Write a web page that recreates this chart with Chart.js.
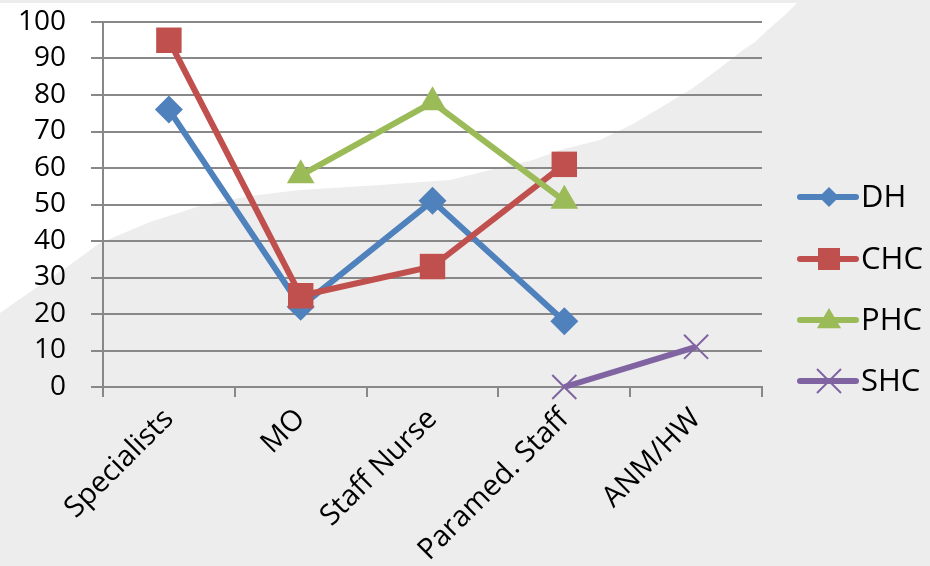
<!DOCTYPE html>
<html>
<head>
<meta charset="utf-8">
<script src="https://cdn.jsdelivr.net/npm/chart.js@4/dist/chart.umd.min.js"></script>
<style>
  html, body { margin: 0; padding: 0; background: #ededed; }
  #wrap { width: 930px; height: 566px; position: relative; }
</style>
</head>
<body>
<div id="wrap"><canvas id="c" width="930" height="566"></canvas></div>
<script>
// Staff categories along the x axis
const categories = ['Specialists', 'MO', 'Staff Nurse', 'Paramed. Staff', 'ANM/HW'];

// Values per facility level (null = no value for that category)
const dhValues  = [76, 22, 51, 18, null];
const chcValues = [95, 25, 33, 61, null];
const phcValues = [null, 58, 78, 51, null];
const shcValues = [null, null, null, 0, 11];

// Y axis ticks
const yMin = 0;
const yMax = 100;
const yStep = 10;

const seriesNames = ['DH', 'CHC', 'PHC', 'SHC'];
const seriesColors = ['#4f81bd', '#c0504d', '#9bbb59', '#8064a2'];
const seriesShapes = ['rectRot', 'rect', 'triangle', 'crossRot'];
const seriesRadius = [14, 18, 16, 17];
const seriesValues = [dhValues, chcValues, phcValues, shcValues];

const FONT = '"Open Sans", "DejaVu Sans", sans-serif';
const GRID = '#888888';

// Slide backdrop: grey with a white sweep in the upper left
const backdrop = {
  id: 'backdrop',
  beforeDraw(chart) {
    const ctx = chart.ctx;
    ctx.save();
    ctx.fillStyle = '#ededed';
    ctx.fillRect(0, 0, chart.width, chart.height);
    ctx.fillStyle = '#ffffff';
    const pts = [[0,3],[797,3],[785,15],[770,28],[755,42],[743,50],[720,68],[693,88],[660,108],[633,124],
      [600,140],[560,150],[533,160],[490,170],[450,180],[380,185],[300,190],[250,196],[200,206],
      [150,222],[100,243],[67,267],[30,292],[0,313]];
    ctx.beginPath();
    pts.forEach((p, i) => i ? ctx.lineTo(p[0], p[1]) : ctx.moveTo(p[0], p[1]));
    ctx.closePath();
    ctx.fill();
    ctx.restore();
  }
};

function drawMarker(ctx, shape, x, y, r, color) {
  ctx.save();
  ctx.fillStyle = color;
  ctx.strokeStyle = color;
  ctx.beginPath();
  if (shape === 'rectRot') {
    ctx.moveTo(x, y - r); ctx.lineTo(x + r, y); ctx.lineTo(x, y + r); ctx.lineTo(x - r, y);
    ctx.closePath(); ctx.fill();
  } else if (shape === 'rect') {
    ctx.rect(x - r, y - r, 2 * r, 2 * r); ctx.fill();
  } else if (shape === 'triangle') {
    ctx.moveTo(x, y - r * 1.1); ctx.lineTo(x + r * 1.1, y + r * 0.75); ctx.lineTo(x - r * 1.1, y + r * 0.75);
    ctx.closePath(); ctx.fill();
  } else {
    ctx.lineWidth = 2;
    ctx.moveTo(x - r, y - r); ctx.lineTo(x + r, y + r);
    ctx.moveTo(x + r, y - r); ctx.lineTo(x - r, y + r);
    ctx.stroke();
  }
  ctx.restore();
}

// Legend: line sample with marker, then label
const sideLegend = {
  id: 'sideLegend',
  afterDraw(chart) {
    const ctx = chart.ctx;
    const x0 = chart.chartArea.right + 38;
    const rows = [197, 259, 320, 381];
    chart.data.datasets.forEach((ds, i) => {
      const y = rows[i];
      ctx.save();
      ctx.strokeStyle = ds.borderColor;
      ctx.lineWidth = 6;
      ctx.lineCap = 'round';
      ctx.beginPath();
      ctx.moveTo(x0, y); ctx.lineTo(x0 + 56, y);
      ctx.stroke();
      ctx.restore();
      const mr = [10, 11, 11, 12][i];
      drawMarker(ctx, seriesShapes[i], x0 + 29, y, mr, ds.borderColor);
      ctx.save();
      ctx.fillStyle = '#000';
      ctx.font = '31px ' + FONT;
      ctx.textBaseline = 'middle';
      ctx.textAlign = 'left';
      ctx.fillText(ds.label, x0 + 61, y + 1);
      ctx.restore();
    });
  }
};

const datasets = seriesNames.map((name, i) => ({
  label: name,
  data: seriesValues[i],
  borderColor: seriesColors[i],
  backgroundColor: seriesColors[i],
  borderWidth: 6,
  pointStyle: seriesShapes[i],
  pointRadius: seriesRadius[i],
  pointHoverRadius: seriesRadius[i],
  pointBorderWidth: i === 3 ? 2 : 0,
  pointBackgroundColor: seriesColors[i],
  pointBorderColor: seriesColors[i],
  tension: 0,
  spanGaps: false,
  clip: false,
  order: 4 - i
}));

new Chart(document.getElementById('c'), {
  type: 'line',
  data: { labels: categories, datasets },
  options: {
    responsive: false,
    animation: false,
    devicePixelRatio: 1,
    layout: { padding: { top: 22, right: 168, left: 0, bottom: 0 } },
    plugins: {
      legend: { display: false },
      tooltip: { enabled: false }
    },
    scales: {
      x: {
        offset: true,
        afterFit(scale) { scale.height = 179; },
        grid: {
          offset: true,
          drawOnChartArea: false,
          drawTicks: true,
          tickLength: 10,
          color: GRID,
          lineWidth: 2
        },
        border: { display: true, color: GRID, width: 2 },
        ticks: {
          color: '#000',
          font: { family: FONT, size: 29 },
          minRotation: 45,
          maxRotation: 45,
          padding: 5,
          autoSkip: false
        }
      },
      y: {
        min: yMin,
        max: yMax,
        afterFit(scale) {
          scale.width = 103;
          scale.paddingTop = 0;
          scale.paddingBottom = 0;
        },
        grid: {
          color: GRID,
          lineWidth: 2,
          tickLength: 12,
          drawTicks: true
        },
        border: { display: true, color: GRID, width: 2 },
        ticks: {
          stepSize: yStep,
          autoSkip: false,
          color: '#000',
          font: { family: FONT, size: 28 },
          padding: 25
        }
      }
    }
  },
  plugins: [backdrop, sideLegend]
});
</script>
</body>
</html>
